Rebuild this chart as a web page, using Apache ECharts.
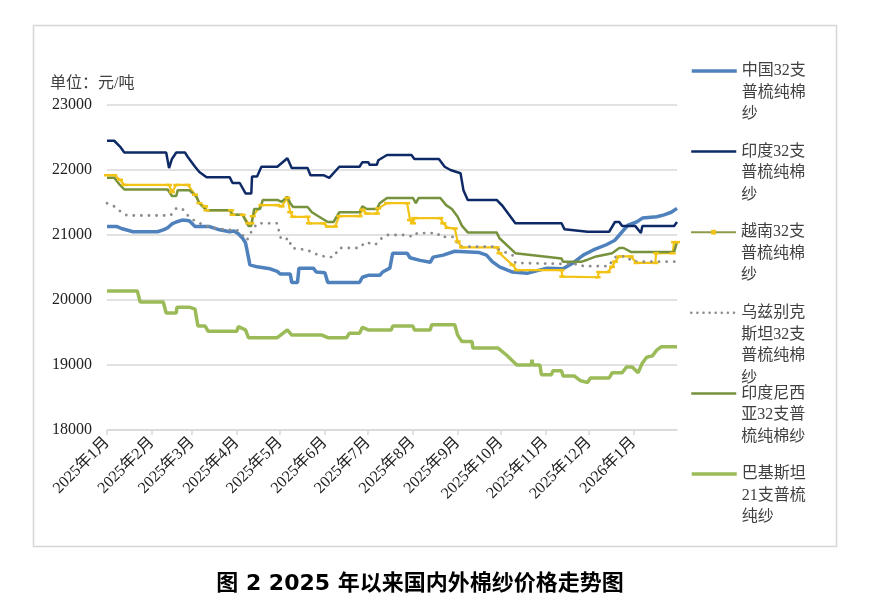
<!DOCTYPE html>
<html><head><meta charset="utf-8">
<script src="https://cdn.jsdelivr.net/npm/echarts@6/dist/echarts.min.js"></script>
<style>html,body{margin:0;padding:0;background:#fff}#c{width:879px;height:600px}</style>
</head><body><div id="c"></div>
<script>
// x values: day offset from 2025-01-01
const SERIES_NAMES = ['中国32支普梳纯棉纱','印度32支普梳纯棉纱','越南32支普梳纯棉纱','乌兹别克斯坦32支普梳纯棉纱','印度尼西亚32支普梳纯棉纱','巴基斯坦21支普梳纯纱'];
const LEGEND_LINES = [
  ['中国32支','普梳纯棉','纱'],
  ['印度32支','普梳纯棉','纱'],
  ['越南32支','普梳纯棉','纱'],
  ['乌兹别克','斯坦32支','普梳纯棉','纱'],
  ['印度尼西','亚32支普','梳纯棉纱'],
  ['巴基斯坦','21支普梳','纯纱']
];
const MONTH_LABELS = ['2025年1月','2025年2月','2025年3月','2025年4月','2025年5月','2025年6月','2025年7月','2025年8月','2025年9月','2025年10月','2025年11月','2025年12月','2026年1月'];
const MONTH_STARTS = [[2025,0],[2025,1],[2025,2],[2025,3],[2025,4],[2025,5],[2025,6],[2025,7],[2025,8],[2025,9],[2025,10],[2025,11],[2026,0]];
const Y_MIN = 18000, Y_MAX = 23000, Y_STEP = 1000, X_MAX = 395;

const CHINA = [[0,21130],[7,21130],[10,21100],[18,21050],[35,21050],[39,21080],[42,21110],[45,21170],[48,21200],[52,21230],[57,21220],[61,21130],[71,21130],[78,21080],[85,21050],[88,21060],[91,21020],[94,20950],[96,20880],[98,20660],[99,20540],[104,20510],[113,20480],[118,20440],[120,20400],[127,20400],[128,20270],[132,20270],[133,20490],[143,20490],[145,20430],[151,20420],[153,20270],[175,20270],[177,20350],[181,20380],[189,20380],[191,20430],[196,20490],[198,20720],[208,20720],[210,20650],[217,20610],[224,20580],[226,20660],[233,20690],[241,20750],[258,20730],[263,20690],[267,20590],[272,20510],[281,20430],[291,20410],[305,20490],[316,20480],[323,20570],[330,20690],[337,20770],[346,20850],[352,20920],[357,21050],[361,21150],[367,21200],[371,21260],[381,21280],[386,21310],[391,21350],[395,21410]];
const INDIA = [[0,22450],[5,22450],[9,22360],[12,22270],[41,22270],[43,22030],[45,22170],[48,22270],[54,22270],[56,22200],[61,22050],[64,21970],[69,21890],[85,21890],[87,21800],[92,21800],[96,21640],[100,21640],[100.5,21900],[104,21900],[107,22050],[118,22050],[125,22180],[128,22030],[139,22030],[141,21920],[150,21920],[154,21880],[161,22050],[175,22050],[177,22120],[181,22120],[182,22080],[187,22080],[188,22150],[194,22230],[211,22230],[213,22170],[230,22170],[234,22050],[238,22000],[245,21950],[247,21690],[250,21540],[270,21540],[274,21450],[283,21180],[315,21180],[317,21090],[333,21050],[348,21050],[352,21200],[355,21200],[357,21140],[366,21140],[370,21030],[371,21140],[393,21140],[395,21200]];
const VIETNAM = [[0,21920],[5,21920],[9,21850],[12,21770],[43,21770],[45,21660],[48,21770],[56,21770],[61,21620],[64,21490],[68,21440],[69,21380],[86,21380],[87,21310],[94,21310],[98,21180],[100,21180],[101,21290],[107,21460],[118,21460],[121,21440],[125,21570],[127,21350],[129,21280],[139,21280],[140,21180],[150,21180],[153,21130],[158,21130],[161,21290],[175,21290],[177,21390],[180,21330],[187,21330],[188,21410],[194,21490],[208,21490],[210,21230],[212,21180],[213,21260],[231,21260],[233,21180],[236,21110],[241,21100],[243,20900],[246,20810],[270,20810],[272,20720],[281,20540],[284,20460],[315,20460],[315.5,20360],[340,20350],[341,20430],[347,20430],[350,20510],[352,20590],[355,20670],[363,20670],[367,20570],[380,20570],[380.5,20720],[392,20720],[393,20890],[395,20890]];
const UZBEK = [[0,21490],[6,21430],[10,21350],[14,21300],[44,21300],[48,21410],[52,21410],[55,21320],[60,21230],[67,21150],[76,21100],[83,21080],[90,21080],[94,21000],[97,20920],[100,21050],[104,21180],[118,21180],[120,20970],[122,20920],[126,20950],[127,20970],[128,20800],[139,20770],[143,20720],[152,20660],[157,20660],[161,20800],[175,20800],[179,20890],[186,20850],[189,20930],[194,21000],[208,21000],[212,20970],[215,21030],[229,21030],[231,20970],[241,20970],[243,20850],[246,20820],[270,20820],[272,20770],[281,20690],[283,20570],[328,20550],[330,20520],[348,20520],[350,20610],[353,20670],[360,20670],[364,20590],[395,20590]];
const INDONESIA = [[0,21880],[5,21880],[9,21770],[12,21700],[42,21700],[45,21600],[48,21600],[49,21690],[57,21690],[62,21590],[64,21490],[69,21380],[85,21380],[87,21310],[94,21310],[98,21140],[100,21140],[102,21400],[106,21400],[108,21540],[118,21540],[121,21510],[125,21590],[127,21490],[129,21430],[139,21430],[142,21350],[147,21280],[153,21200],[157,21200],[161,21350],[175,21350],[177,21440],[180,21400],[187,21400],[189,21490],[194,21570],[212,21570],[214,21490],[216,21570],[231,21570],[235,21460],[239,21400],[243,21280],[246,21140],[250,21040],[270,21040],[272,20950],[283,20720],[315,20640],[316,20590],[329,20590],[333,20620],[339,20670],[350,20720],[355,20800],[358,20800],[363,20740],[393,20740],[395,20890]];
const PAKISTAN = [[0,20140],[21,20140],[23,19970],[39,19970],[41,19800],[48,19800],[48.5,19890],[57,19890],[61,19860],[63,19600],[68,19600],[70,19520],[90,19520],[91,19590],[96,19540],[98,19420],[118,19420],[125,19540],[128,19460],[149,19460],[153,19420],[166,19420],[168,19490],[175,19490],[177,19580],[181,19540],[197,19540],[198,19600],[212,19600],[213,19540],[224,19540],[225,19620],[241,19620],[243,19460],[246,19360],[253,19360],[253.5,19260],[271,19260],[277,19150],[284,19000],[294,19000],[294.5,19080],[295,19000],[300,19000],[301,18850],[308,18850],[309,18910],[315,18910],[316,18830],[324,18830],[328,18760],[333,18730],[335,18800],[348,18800],[350,18880],[357,18880],[360,18970],[364,18970],[368,18880],[371,19030],[374,19120],[378,19140],[381,19230],[384,19280],[395,19280]];

const DATA = [CHINA, INDIA, VIETNAM, UZBEK, INDONESIA, PAKISTAN];
const COLORS = ['#4f81bd','#0e2a66','#f2c314','#8c8c8c','#76923c','#9bbb59'];
const WIDTHS = [3.5, 2.5, 2.2, 2.8, 2.5, 3.5];

const base = Date.UTC(2025,0,1);
const tickDays = MONTH_STARTS.map(([y,m]) => Math.round((Date.UTC(y,m,1)-base)/86400000));

const serif = "'Liberation Serif','Noto Sans CJK SC',serif";
const LH = 21.5;

const series = SERIES_NAMES.map((n,i) => {
  const s = {
    name: n, type: 'line', data: DATA[i],
    symbol: 'none', showSymbol: false,
    lineStyle: { color: COLORS[i], width: WIDTHS[i] },
    itemStyle: { color: COLORS[i] },
    animation: false
  };
  if (i === 2) {
    s.symbol = 'rect'; s.showSymbol = true; s.showAllSymbol = true;
    s.symbolSize = [6, 2.5];
  }
  if (i === 3) {
    s.lineStyle.type = [0.1, 7.5];
    s.lineStyle.cap = 'round';
  }
  return s;
});

const legends = SERIES_NAMES.map((n,i) => {
  const lines = LEGEND_LINES[i];
  const pad = new Array(lines.length - 1).fill('');
  const H = (2*lines.length - 1) * LH;
  const item = { name: n, lineStyle: { color: COLORS[i], width: WIDTHS[i] } };
  if (i === 2) { item.lineStyle = { color: '#8f9a48', width: 2 }; item.itemStyle = { color: '#f2c314' }; }
  else { item.itemStyle = { opacity: 0, color: 'rgba(0,0,0,0)', borderWidth: 0 }; }
  if (i === 3) item.lineStyle = { color: COLORS[i], width: 2.5, type: [0.1, 6], cap: 'round' };
  return {
    data: [item], left: 690, top: 71 + i*80.6 - H/2,
    orient: 'vertical', padding: 0, itemGap: 0,
    itemWidth: 45, itemHeight: 6, selectedMode: false,
    formatter: () => pad.concat(lines).join('\n'),
    textStyle: { fontFamily: serif, fontSize: 16, lineHeight: LH, color: '#404040' }
  };
});

const chart = echarts.init(document.getElementById('c'), null, {renderer:'canvas'});
chart.setOption({
  animation: false,
  backgroundColor: '#fff',
  title: {
    text: '图 2 2025 年以来国内外棉纱价格走势图',
    left: 415, top: 568, textAlign: 'center',
    textStyle: { fontFamily: "'DejaVu Sans','Noto Sans CJK SC',sans-serif", fontSize: 22, fontWeight: 'bold', color: '#000' }
  },
  graphic: [
    { type: 'rect', shape: { x: 33.5, y: 25.5, width: 803, height: 521 }, style: { fill: 'none', stroke: '#d6d6d6', lineWidth: 1.5 }, silent: true, z: -1 },
    { type: 'text', left: 50, top: 76, style: { text: '单位：元/吨', font: "16px 'Liberation Serif','Noto Sans CJK SC',serif", fill: '#404040' } }
  ],
  legend: legends,
  grid: { left: 107, top: 105, width: 570, height: 325, containLabel: false },
  xAxis: {
    type: 'value', min: 0, max: X_MAX,
    splitLine: { show: false },
    axisLine: { show: true, lineStyle: { color: '#d9d9d9', width: 1.5 } },
    axisTick: { show: true, customValues: tickDays, length: 5, lineStyle: { color: '#d9d9d9', width: 1.5 } },
    axisLabel: {
      customValues: tickDays, rotate: 45, margin: 10,
      formatter: (v) => { const k = tickDays.indexOf(Math.round(v)); return k >= 0 ? MONTH_LABELS[k] : ''; },
      fontFamily: serif, fontSize: 16, color: '#222'
    }
  },
  yAxis: {
    type: 'value', min: Y_MIN, max: Y_MAX, interval: Y_STEP,
    axisLine: { show: false }, axisTick: { show: false },
    splitLine: { lineStyle: { color: '#d9d9d9', width: 1.5 } },
    axisLabel: { fontFamily: serif, fontSize: 16, color: '#222', margin: 15, formatter: (v) => String(v) }
  },
  series: series
});
</script></body></html>
